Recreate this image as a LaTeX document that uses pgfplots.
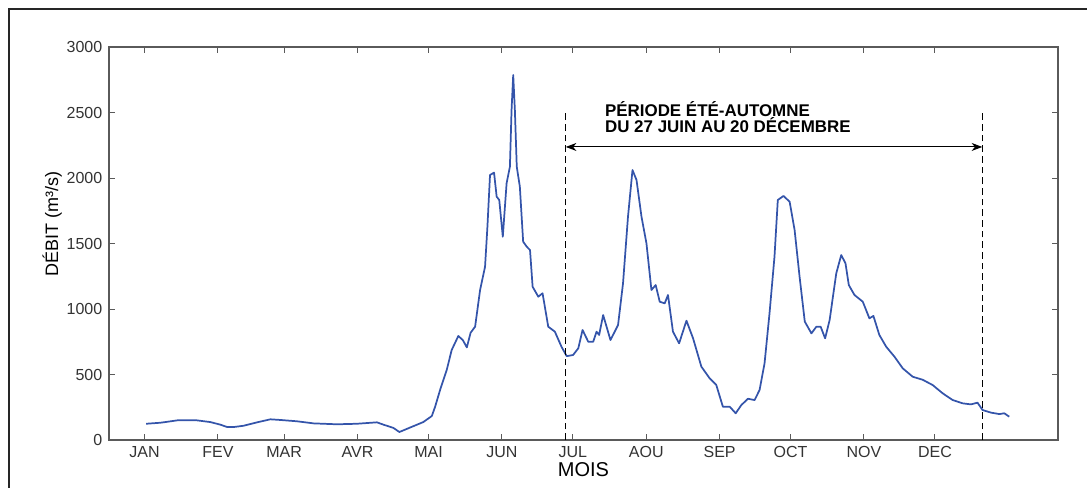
\documentclass[border=0pt]{standalone}
\usepackage{pgfplots}
\pgfplotsset{compat=1.18}
\usepackage{fontspec}
\setmainfont{Liberation Sans}
\usetikzlibrary{arrows.meta}
\definecolor{debit}{RGB}{52,84,170}
\definecolor{axisgray}{RGB}{90,90,90}

\begin{document}
\begin{tikzpicture}[x=1pt,y=1pt]
  \useasboundingbox (-81.75,-35.25) rectangle (733.5,330);
  \begin{axis}[
      at={(0,0)}, anchor=south west,
      width=711.75pt, height=294.75pt, scale only axis,
      xmin=-15, xmax=386,
      ymin=0, ymax=3000,
      xtick={0,31,59,90,120,151,181,212,243,273,304,334},
      xticklabels={JAN,FEV,MAR,AVR,MAI,JUN,JUL,AOU,SEP,OCT,NOV,DEC},
      ytick={0,500,1000,1500,2000,2500,3000},
      tick align=inside,
      major tick length=4.5pt,
      tick style={axisgray, line width=0.7pt},
      axis line style={axisgray, line width=0.9pt},
      /pgf/number format/1000 sep={},
      /pgf/number format/assume math mode=true,
      xticklabel style={font=\fontsize{12}{14}\selectfont, text=black!80, yshift=-1pt},
      yticklabel style={font=\fontsize{12}{14}\selectfont, text=black!80, xshift=-1.5pt},
      xlabel={MOIS},
      ylabel={DÉBIT (m³/s)},
      xlabel style={font=\fontsize{15}{17}\selectfont, at={(axis description cs:0.5,-0.0763)}, anchor=center},
      ylabel style={font=\fontsize{13.5}{16}\selectfont, at={(axis description cs:-0.06,0.55)}, anchor=center},
      clip=false,
    ]

    % flow (m3/s) by day of year
    \addplot[color=debit, line width=1.3pt, line join=round] coordinates {
        (0.7,124)(6.8,132)(13.8,150)(22.2,150)(27.8,137)(32.1,117)(34.9,99)
        (37.7,99)(41.9,109)(47.6,135)(53.2,158)(57.4,153)(64.4,143)(71.4,127)
        (81.3,120)(89.7,124)(98.2,135)(101.0,117)(105.2,92)(107.7,61)(112.2,95)
        (117.8,137)(121.4,183)(122.8,254)(124.9,382)(127.7,534)(129.8,687)
        (132.6,794)(134.5,763)(136.2,707)(137.8,819)(139.7,865)(141.8,1145)
        (143.9,1323)(144.9,1628)(146.0,2023)(147.7,2041)(148.8,1858)(149.9,1832)
        (151.4,1552)(152.2,1756)(153.0,1959)(154.4,2086)(155.1,2519)(155.8,2786)
        (156.5,2519)(157.3,2086)(158.6,1934)(160.0,1514)(161.5,1476)(162.9,1450)
        (164.0,1170)(166.4,1094)(168.2,1120)(170.6,865)(173.4,827)(176.2,712)
        (178.4,640)(181.1,649)(183.3,700)(185.1,840)(187.5,750)(189.6,750)
        (191.0,827)(192.1,802)(193.8,954)(196.9,763)(200.1,878)(202.2,1196)
        (204.3,1705)(206.2,2061)(207.9,1985)(210.0,1705)(212.1,1501)(214.2,1145)
        (216.0,1183)(217.7,1056)(219.8,1043)(221.2,1107)(223.3,827)(225.9,738)
        (229.0,911)(231.8,776)(235.3,560)(238.8,471)(241.6,420)(244.4,254)
        (247.3,254)(249.8,204)(252.2,267)(255.0,315)(257.8,305)(259.9,382)
        (262.0,585)(264.1,967)(266.2,1399)(267.6,1832)(270.0,1863)(272.6,1819)
        (274.7,1603)(276.8,1247)(279.0,904)(281.8,814)(283.9,865)(285.7,865)
        (287.6,776)(289.5,916)(292.3,1272)(294.4,1412)(296.2,1349)(297.6,1183)
        (300.0,1107)(303.5,1056)(306.3,929)(308.0,947)(310.5,802)(313.4,712)
        (316.9,636)(320.4,547)(324.6,483)(328.8,460)(333.0,420)(337.3,356)
        (341.5,305)(345.7,280)(349.2,272)(352.0,285)(354.1,229)(357.7,209)
        (361.2,198)(363.3,204)(365.4,178)
      };

    % period limits
    \addplot[black, line width=0.7pt, dash pattern=on 5pt off 3pt] coordinates {(178,0)(178,2500)};
    \addplot[black, line width=0.7pt, dash pattern=on 5pt off 3pt] coordinates {(354,0)(354,2500)};

    \draw[black, line width=0.7pt, {Stealth[length=8pt,width=6pt,inset=2.5pt]}-{Stealth[length=8pt,width=6pt,inset=2.5pt]}]
      (axis cs:178,2237) -- (axis cs:354,2237);

    \node[anchor=base west, inner sep=0pt, font=\bfseries\fontsize{12.7}{15}\selectfont] at (axis cs:194.5,2473) {PÉRIODE ÉTÉ-AUTOMNE};
    \node[anchor=base west, inner sep=0pt, font=\bfseries\fontsize{12.7}{15}\selectfont] at (axis cs:194.5,2344) {DU 27 JUIN AU 20 DÉCEMBRE};
  \end{axis}
  % outer frame
  \draw[line width=1.3pt, black!85] (-75,-40) -- (-75,323.25) -- (740,323.25);
\end{tikzpicture}
\end{document}
